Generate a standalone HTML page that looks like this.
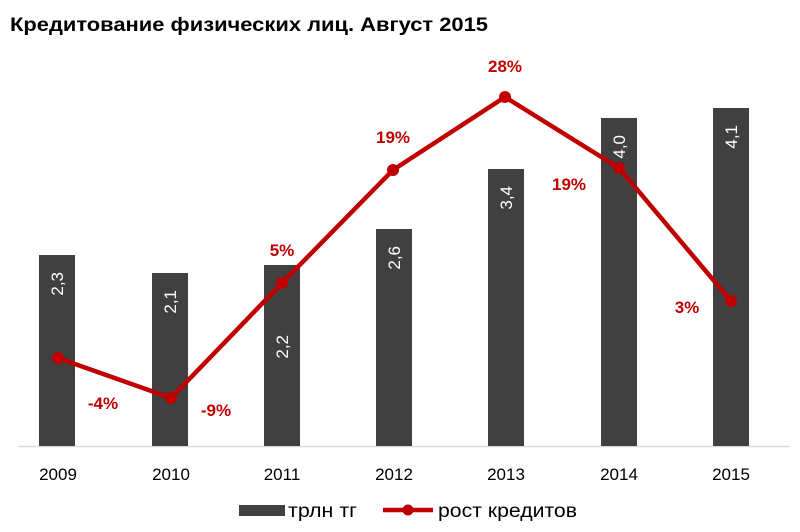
<!DOCTYPE html>
<html><head><meta charset="utf-8"><style>
html,body{margin:0;padding:0;background:#fff;}
svg{display:block;font-family:"Liberation Sans","DejaVu Sans",sans-serif;}
</style></head><body>
<svg width="800" height="532" viewBox="0 0 800 532" xmlns="http://www.w3.org/2000/svg">
<rect width="800" height="532" fill="#fff"/>
<text x="10" y="31" font-size="19" font-weight="bold" fill="#000" textLength="478" lengthAdjust="spacingAndGlyphs">Кредитование  физических лиц. Август 2015</text>
<line x1="18" y1="446.5" x2="790" y2="446.5" stroke="#d9d9d9" stroke-width="1.5"/>
<g fill="#404040">
<rect x="39" y="255" width="36" height="191"/>
<rect x="152" y="273" width="36" height="173"/>
<rect x="264" y="265" width="36" height="181"/>
<rect x="376" y="229" width="36" height="217"/>
<rect x="488" y="169" width="36" height="277"/>
<rect x="601" y="118" width="36" height="328"/>
<rect x="713" y="108" width="36" height="338"/>
</g>
<g fill="#fff" font-size="17">
<text transform="translate(63,272) rotate(-90)" text-anchor="end">2,3</text>
<text transform="translate(176,290) rotate(-90)" text-anchor="end">2,1</text>
<text transform="translate(288,335) rotate(-90)" text-anchor="end">2,2</text>
<text transform="translate(400,246) rotate(-90)" text-anchor="end">2,6</text>
<text transform="translate(512,186) rotate(-90)" text-anchor="end">3,4</text>
<text transform="translate(625,135) rotate(-90)" text-anchor="end">4,0</text>
<text transform="translate(737,125) rotate(-90)" text-anchor="end">4,1</text>
</g>
<polyline points="58,358 171,398 282,283 393,170 505,97 619,168 731,301" fill="none" stroke="#c00000" stroke-width="4.5" stroke-linejoin="round"/>
<g fill="#c00000">
<circle cx="58" cy="358" r="6"/><circle cx="171" cy="398" r="6"/><circle cx="282" cy="283" r="6"/><circle cx="393" cy="170" r="6"/><circle cx="505" cy="97" r="6"/><circle cx="619" cy="168" r="6"/><circle cx="731" cy="301" r="6"/>
</g>
<g fill="#c00000" font-size="17" font-weight="bold" text-anchor="middle">
<text x="103" y="409">-4%</text>
<text x="216" y="416">-9%</text>
<text x="282" y="256">5%</text>
<text x="393" y="143">19%</text>
<text x="505" y="72">28%</text>
<text x="569" y="190">19%</text>
<text x="687" y="313">3%</text>
</g>
<g font-size="17" text-anchor="middle" fill="#000">
<text x="58" y="480">2009</text><text x="171" y="480">2010</text><text x="282" y="480">2011</text><text x="394" y="480">2012</text><text x="506" y="480">2013</text><text x="619" y="480">2014</text><text x="731" y="480">2015</text>
</g>
<rect x="239" y="505" width="46" height="11" fill="#404040"/>
<text x="288" y="517" font-size="19" textLength="69" lengthAdjust="spacingAndGlyphs">трлн тг</text>
<line x1="383" y1="510" x2="433" y2="510" stroke="#c00000" stroke-width="4.5"/>
<circle cx="408" cy="510" r="5.5" fill="#c00000"/>
<text x="438" y="517" font-size="19" textLength="139" lengthAdjust="spacingAndGlyphs">рост кредитов</text>
</svg>
</body></html>
